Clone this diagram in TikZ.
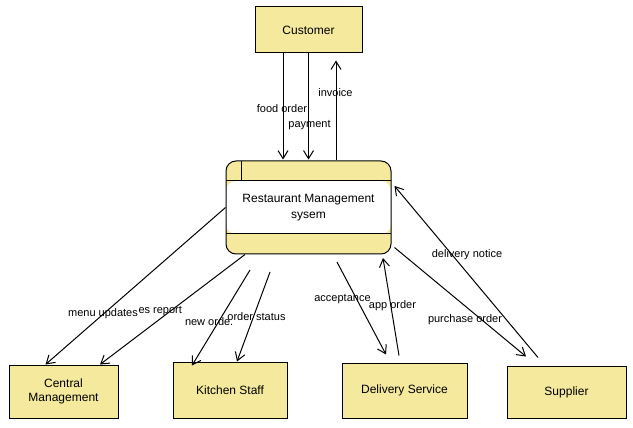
\documentclass[tikz,border=0pt]{standalone}
\usepackage{fontspec}
\setmainfont{Liberation Sans}
\usetikzlibrary{arrows.meta,calc}
\definecolor{boxyellow}{RGB}{244,233,157}
\tikzset{every picture/.style={line width=0.75pt}}
\tikzset{
  entity/.style={draw, fill=boxyellow, align=center, inner sep=0pt, font=\fontsize{9}{10.5}\selectfont},
  process/.style={draw, fill=boxyellow, rounded corners=7.5pt, align=center, inner sep=0pt, font=\fontsize{9}{12}\selectfont},
  flow/.style={-{Straight Barb[length=6pt,width=7.5pt]}},
  flowlabel/.style={inner sep=0.75pt, font=\fontsize{8.25}{10}\selectfont},
}

\begin{document}
\begin{tikzpicture}[x=0.75pt,y=0.75pt,yscale=-1,xscale=1]
        \useasboundingbox (0,0) rectangle (633,428);

        \node [entity, minimum width=80.25pt, minimum height=34.5pt] (cust) at (308.5,30) {Customer};
        \node [process, minimum width=123.75pt, minimum height=69.75pt,
               path picture={
                 \fill [white] ($(path picture bounding box.north west)+(0pt,-15pt)$) rectangle ($(path picture bounding box.south east)+(0pt,15pt)$);
                 \draw ($(path picture bounding box.north west)+(0pt,-15pt)$) -- ($(path picture bounding box.north east)+(0pt,-15pt)$);
                 \draw ($(path picture bounding box.south west)+(0pt,15pt)$) -- ($(path picture bounding box.south east)+(0pt,15pt)$);
                 \draw ($(path picture bounding box.north west)+(11.25pt,0pt)$) -- ($(path picture bounding box.north west)+(11.25pt,-15pt)$);
               }] (rms) at (308.5,207.5) {Restaurant Management\\sysem};
        \node [entity, minimum width=81.75pt, minimum height=39.75pt] (cm) at (63.5,391.5) {Central\\Management};
        \node [entity, minimum width=85.5pt, minimum height=42pt] (ks) at (230,390) {Kitchen Staff};
        \node [entity, minimum width=93.75pt, minimum height=41.25pt] (ds) at (404.5,390.5) {Delivery Service};
        \node [entity, minimum width=89.25pt, minimum height=39pt] (sup) at (566.5,392) {Supplier};

        \coordinate (neworderfrom) at (250,270);
        \coordinate (statusfrom) at (270,272);
        \coordinate (acceptfrom) at (337,262);
        \coordinate (apporderto) at (383,258);

        \draw [flow] ($(cust.south)+(-25.5,0)$) -- ($(rms.north)+(-25.5,-1)$);
        \draw [flow] (cust.south) -- ($(rms.north)+(0,-1)$);
        \draw [flow] ($(rms.north)+(27.5,0)$) -- ($(cust.south)+(27.5,7)$);
        \draw [flow] (rms.west) -- ($(cm.north)+(-18,0)$);
        \draw [flow] ($(rms.south)+(-63.5,0)$) -- ($(cm.north)+(36.5,0)$);
        \draw [flow] (neworderfrom) -- ($(ks.north)+(-38,4)$);
        \draw [flow] (statusfrom) -- ($(ks.north)+(7,0)$);
        \draw [flow] (acceptfrom) -- ($(ds.north)+(-18.5,-8)$);
        \draw [flow] ($(ds.north)+(-5.5,-7)$) -- (apporderto);
        \draw [flow] ($(rms.south east)+(3,-7)$) -- ($(sup.north)+(-40.5,-9)$);
        \draw [flow] ($(sup.north)+(-28.5,-8)$) -- ($(rms.east)+(3,-21.5)$);

        \node [flowlabel] (foodorder) at (282,109) {food order};
        \node [flowlabel] (payment) at (309.5,125) {payment};
        \node [flowlabel] (invoice) at (335.5,93) {invoice};
        \node [flowlabel, anchor=west] (salesreport) at (137,311) {es report};
        \node [flowlabel] (menuupdates) at (103,314) {menu updates};
        \node [flowlabel, anchor=west] (neworder) at (183.5,322) {new orde.};
        \node [flowlabel] (orderstatus) at (256.5,317) {order status};
        \node [flowlabel] (acceptance) at (342.5,299) {acceptance};
        \node [flowlabel] (apporder) at (392.5,306) {app order};
        \node [flowlabel] (purchaseorder) at (465,320) {purchase order};
        \node [flowlabel] (deliverynotice) at (467,255) {delivery notice};
    \end{tikzpicture}
\end{document}
